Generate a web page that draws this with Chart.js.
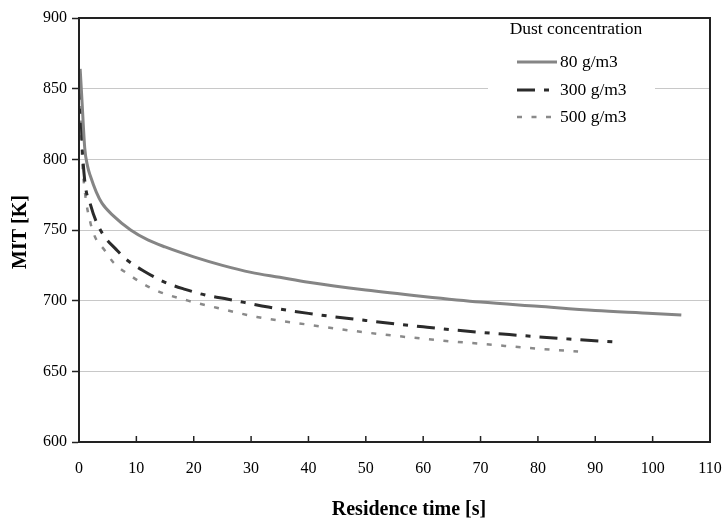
<!DOCTYPE html>
<html>
<head>
<meta charset="utf-8">
<script src="https://cdn.jsdelivr.net/npm/chart.js@4.4.1/dist/chart.umd.min.js"></script>
<style>
  body { margin: 0; background: #fff; }
</style>
</head>
<body>
<canvas id="chart" width="723" height="524"></canvas>
<script>
// values (residence time [s] -> MIT [K])
const time80 = [0.2, 0.5, 1, 1.5, 2, 3, 4, 6, 9, 12, 15, 20, 25, 30, 35, 40, 50, 60, 70, 80, 90, 100, 105];
const mit80 = [864, 843, 808, 795, 788, 777, 769, 760, 750, 743, 738, 731, 725, 720, 716.5, 713, 707.5, 703, 699, 696, 693, 691, 689.8];

const time300 = [0.2, 0.5, 1, 2, 3, 4.5, 6.3, 8, 11.5, 15, 18.5, 22, 26, 33, 40, 50, 60, 66, 75, 85, 94.5];
const mit300 = [855, 815, 785, 768, 756, 745, 737, 730, 720.5, 713, 708, 704, 701, 695.5, 691, 686, 681.5, 679, 676, 673, 670.5];

const time500 = [0.2, 0.5, 1, 2, 2.8, 4.5, 6, 8.5, 13, 19, 24, 31, 40, 50, 64, 70, 80, 87];
const mit500 = [848, 805, 778, 755, 745, 735.5, 727, 719, 708, 700, 695, 688.5, 683, 677.5, 671.5, 669.5, 666, 664];

const seriesNames = ['80 g/m3', '300 g/m3', '500 g/m3'];
const legendTitle = 'Dust concentration';
const xTitle = 'Residence time [s]';
const yTitle = 'MIT [K]';

function toPoints(xs, ys) {
    return xs.map((x, i) => ({ x: x, y: ys[i] }));
}

const serif = 'Liberation Serif, Times New Roman, serif';

// frame, inner x ticks, legend and axis titles
const extras = {
    id: 'extras',
    afterDraw(chart) {
        const ctx = chart.ctx;
        const a = chart.chartArea;
        ctx.save();

        // x tick marks pointing inward
        const xs = chart.scales.x;
        ctx.strokeStyle = '#222';
        ctx.lineWidth = 1.5;
        xs.ticks.forEach(t => {
            const px = xs.getPixelForValue(t.value);
            ctx.beginPath();
            ctx.moveTo(px, a.bottom);
            ctx.lineTo(px, a.bottom - 6);
            ctx.stroke();
        });

        // frame
        ctx.lineWidth = 2;
        ctx.strokeStyle = '#222';
        ctx.strokeRect(a.left, a.top, a.right - a.left, a.bottom - a.top);

        // legend
        ctx.fillStyle = '#fff';
        ctx.fillRect(488, 21, 167, 108);
        ctx.fillStyle = '#000';
        ctx.font = '17.5px ' + serif;
        ctx.textBaseline = 'middle';
        ctx.textAlign = 'center';
        ctx.fillText(legendTitle, 576, 29);
        ctx.textAlign = 'left';
        const rows = [62, 90, 117];
        chart.data.datasets.forEach((ds, i) => {
            ctx.save();
            ctx.strokeStyle = ds.borderColor;
            ctx.lineWidth = ds.borderWidth;
            ctx.setLineDash(ds.borderDash || []);
            ctx.beginPath();
            ctx.moveTo(517, rows[i]);
            ctx.lineTo(557, rows[i]);
            ctx.stroke();
            ctx.restore();
            ctx.fillText(ds.label, 560, rows[i]);
        });

        // axis titles
        ctx.font = 'bold 20px ' + serif;
        ctx.textAlign = 'center';
        ctx.fillText(xTitle, 409, 510);
        ctx.translate(21, 232);
        ctx.rotate(-Math.PI / 2);
        ctx.fillText(yTitle, 0, 0);
        ctx.restore();
    }
};

const ctx = document.getElementById('chart').getContext('2d');
const myChart = new Chart(ctx, {
    type: 'line',
    data: {
        datasets: [
            {
                label: seriesNames[0],
                data: toPoints(time80, mit80),
                borderColor: '#858585',
                borderWidth: 3,
                pointRadius: 0,
                cubicInterpolationMode: 'monotone'
            },
            {
                label: seriesNames[1],
                data: toPoints(time300, mit300),
                borderColor: '#2b2b2b',
                borderWidth: 3,
                borderDash: [18, 9, 5, 9],
                pointRadius: 0,
                cubicInterpolationMode: 'monotone'
            },
            {
                label: seriesNames[2],
                data: toPoints(time500, mit500),
                borderColor: '#8a8a8a',
                borderWidth: 2.5,
                borderDash: [5, 9.5],
                pointRadius: 0,
                cubicInterpolationMode: 'monotone'
            }
        ]
    },
    options: {
        responsive: false,
        animation: false,
        layout: { padding: { top: 18, right: 13, left: 0, bottom: 0 } },
        plugins: {
            legend: { display: false },
            tooltip: { enabled: false }
        },
        scales: {
            x: {
                type: 'linear',
                min: 0,
                max: 110,
                ticks: { stepSize: 10, color: '#000', padding: 9, font: { family: serif, size: 16 } },
                grid: { display: false },
                border: { display: true, color: '#222', width: 2 },
                afterFit(scale) {
                    scale.height = 82;
                    scale.paddingLeft = 0;
                    scale.paddingRight = 0;
                }
            },
            y: {
                min: 600,
                max: 900,
                ticks: { stepSize: 50, color: '#000', padding: 5, font: { family: serif, size: 16 } },
                grid: { color: '#c8c8c8', lineWidth: 1, tickLength: 7, tickColor: '#222', tickWidth: 1.5 },
                border: { display: true, color: '#222', width: 2 },
                afterFit(scale) { scale.width = 79; }
            }
        }
    },
    plugins: [extras]
});
</script>
</body>
</html>
